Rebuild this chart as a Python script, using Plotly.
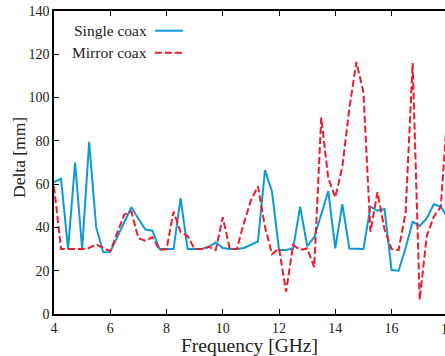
import plotly.graph_objects as go

freq = [4 + 0.25 * i for i in range(57)]

single_coax = [61, 62.5, 30, 70, 30, 79.5, 40, 28.5, 28.7, 35.5, 42.5, 49.3,
               44, 39, 38.5, 30, 30, 30, 53.5, 30, 30, 30, 31, 33,
               30.5, 30, 30, 30.5, 32, 33.5, 66.5, 56.5, 29.6, 29.6, 30.3, 49.6,
               31.4, 35.5, 46, 56.8, 30.3, 50.8, 30.3, 30.3, 30, 49.6, 47.7, 48.5,
               20.3, 20, 30.5, 42.6, 40.7, 44.2, 50.7, 49.6, 44.5]

mirror_coax = [59, 30, 30, 30, 30, 30.5, 32.2, 30.5, 29, 37.5, 46, 47.3,
               35, 33.8, 35.5, 29.6, 30, 47.3, 37.9, 36, 30, 30, 31, 29.5,
               44.7, 30, 30, 42, 52.5, 59, 40.3, 27.6, 30.3, 10.3, 31.9, 29.6,
               30.3, 21.6, 90.8, 62.7, 53.9, 68, 95, 116.5, 102.5, 38, 56.3, 39,
               30, 29.5, 47, 116, 6.5, 36, 45, 49.5, 96]

x_ticks = [4, 6, 8, 10, 12, 14, 16]
y_ticks = [0, 20, 40, 60, 80, 100, 120, 140]

BLUE = "#0f98d8"
RED = "#ec1c2a"
FONT = "Liberation Serif"
TXT = "#222222"

fig = go.Figure()
fig.add_trace(go.Scatter(x=freq, y=single_coax, mode="lines", name="Single coax",
                         line=dict(color=BLUE, width=2)))
fig.add_trace(go.Scatter(x=freq, y=mirror_coax, mode="lines", name="Mirror coax",
                         line=dict(color=RED, width=2, dash="7px,3px")))

# legend (text left of the line sample, as in the reference)
legend_items = [("Single coax", BLUE, "solid", 0.935), ("Mirror coax", RED, "7px,3px", 0.862)]
for label, col, dash, yp in legend_items:
    fig.add_annotation(xref="paper", yref="paper", x=0.243, y=yp, text=label,
                       showarrow=False, xanchor="right", yanchor="middle",
                       font=dict(family=FONT, size=15.5, color=TXT))
    fig.add_shape(type="line", xref="paper", yref="paper", x0=0.258, x1=0.33,
                  y0=yp, y1=yp, line=dict(color=col, width=2, dash=dash))

# the "18" tick label, cut by the right edge as in the reference
fig.add_annotation(xref="paper", yref="paper", x=1.0072, y=0, yshift=-6,
                   text="18", showarrow=False, xanchor="center", yanchor="top",
                   font=dict(family=FONT, size=14, color=TXT))

# y-axis title
fig.add_annotation(xref="paper", yref="paper", x=-0.0908, y=0.5165, text="Delta [mm]",
                   textangle=-90, showarrow=False, xanchor="center", yanchor="middle",
                   font=dict(family=FONT, size=17.5, color=TXT))

fig.update_layout(
    width=445, height=356,
    margin=dict(l=54, r=0, t=11, b=42),
    paper_bgcolor="white", plot_bgcolor="white",
    showlegend=False,
    font=dict(family=FONT, size=14, color=TXT),
)
fig.update_xaxes(
    range=[4, 17.9], tickvals=x_ticks, ticks="inside", ticklen=5, tickwidth=1.2,
    tickcolor="black", showline=True, linecolor="black", linewidth=1.5,
    mirror="ticks", showgrid=False, zeroline=False, automargin=False,
    tickfont=dict(family=FONT, size=14, color=TXT),
    title=dict(text="Frequency [GHz]", font=dict(family=FONT, size=19.5, color=TXT), standoff=2),
)
fig.update_yaxes(
    range=[0, 140], tickvals=y_ticks, ticks="inside", ticklen=5, tickwidth=1.2,
    tickcolor="black", showline=True, linecolor="black", linewidth=1.5,
    mirror=False, showgrid=False, zeroline=False, automargin=False,
    tickfont=dict(family=FONT, size=14, color=TXT),
)

fig.write_html("out.html")
